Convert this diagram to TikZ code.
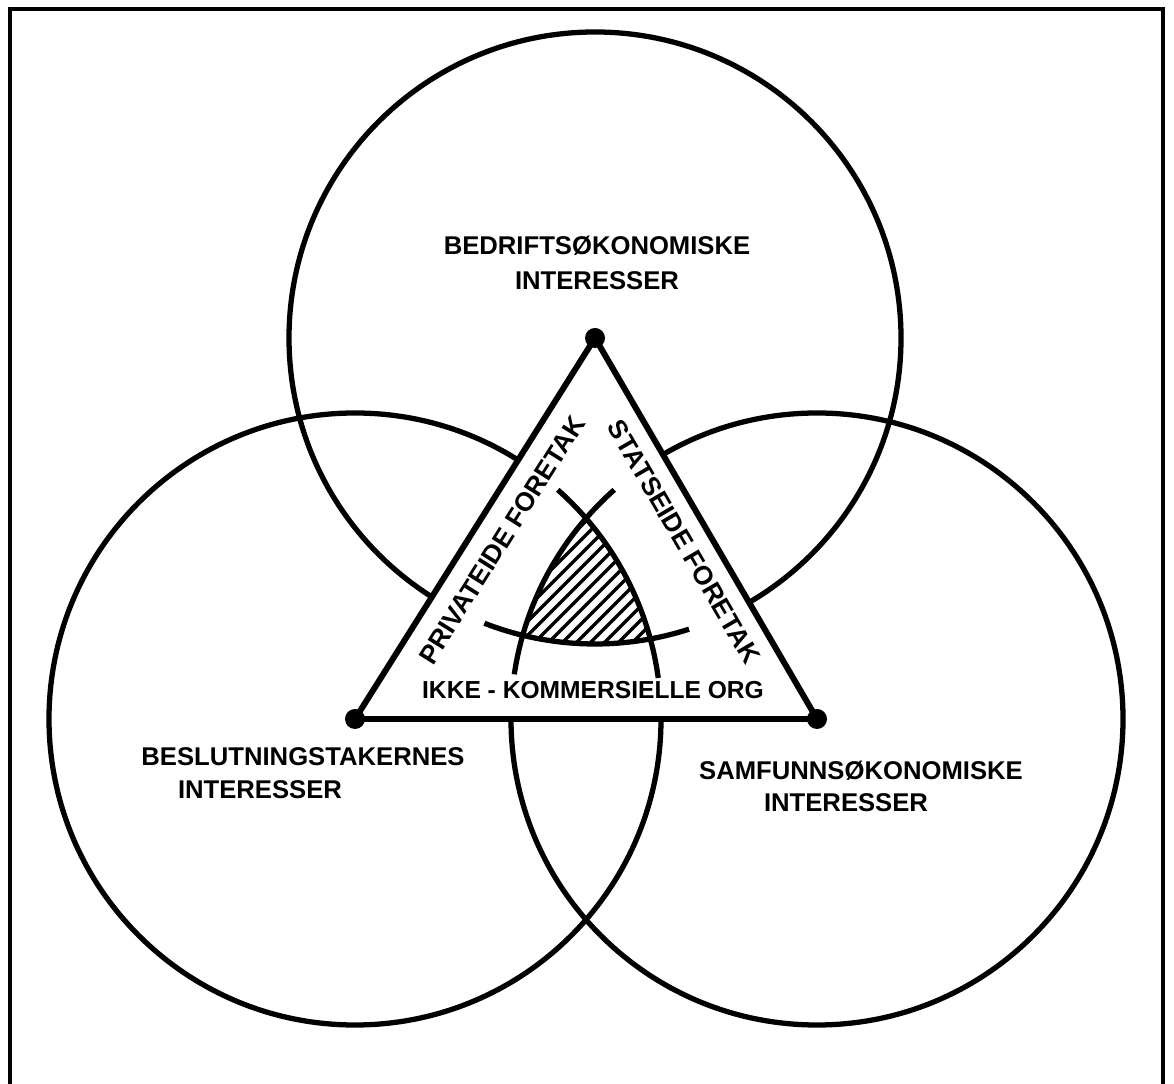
\documentclass[tikz,border=0pt]{standalone}
\usepackage{fontspec}
\setmainfont{Liberation Sans}
\begin{document}
\begin{tikzpicture}[
   x=1cm,y=1cm,
   ring/.style={line width=3pt},
   edge/.style={line width=3.4pt},
   vertex/.style={circle,fill=black,inner sep=0pt,minimum size=0.4cm},
   hatch/.style={line width=2pt},
   frame/.style={line width=2.2pt},
   sector/.style={font=\bfseries\fontsize{15}{20}\selectfont},
   interest/.style={font=\bfseries\fontsize{14.6}{20}\selectfont},
   every node/.style={font=\bfseries\fontsize{14}{20}\selectfont,inner sep=0pt}
 ]
  \useasboundingbox (0,0) rectangle (23.48,21.66);
  \draw[frame] (0.2,-0.3) -- (0.2,21.48) -- (23.26,21.48) -- (23.26,-0.3);

  \coordinate (t) at (11.90,14.90);
  \coordinate (l) at (7.10,7.28);
  \coordinate (r) at (16.34,7.28);

  \foreach \c in {t,l,r}
    \draw[ring] (\c) circle (6.12);

  \filldraw[edge,fill=white] (t) -- (l) -- (r) -- cycle;

  % common part of the three interests
  \begin{scope}
    \clip (t) circle (6.12);
    \clip (l) circle (6.12);
    \clip (r) circle (6.12);
    \foreach \c in {-1.2,-0.92,...,4.6}
      \draw[hatch] (\c+8,8) -- (\c+12,12);
  \end{scope}
  \draw[ring] (l) ++(7.7:6.12) arc (7.7:48.5:6.12);
  \draw[ring] (r) ++(131.5:6.12) arc (131.5:171.6:6.12);
  \draw[ring] (t) ++(248.8:6.12) arc (248.8:287.9:6.12);

  \node[vertex] (bed) at (t) {};
  \node[vertex] (bes) at (l) {};
  \node[vertex] (sam) at (r) {};

  \node[interest,align=center] (bedrift) at (11.94,16.41) {BEDRIFTSØKONOMISKE\\INTERESSER};
  \node[interest] (beslut) at (6.06,6.52) {BESLUTNINGSTAKERNES};
  \node[interest] (beslutint) at (5.2,5.86) {INTERESSER};
  \node[interest] (samfunn) at (17.22,6.24) {SAMFUNNSØKONOMISKE};
  \node[interest] (samfunnint) at (16.92,5.6) {INTERESSER};
  \node (ikke) at (11.86,7.86) {IKKE - KOMMERSIELLE ORG};
  \node[sector,rotate=57.8] (privat) at (10.04,10.86) {PRIVATEIDE FORETAK};
  \node[sector,rotate=-59.8] (stat) at (13.68,10.82) {STATSEIDE FORETAK};
 \end{tikzpicture}
\end{document}
